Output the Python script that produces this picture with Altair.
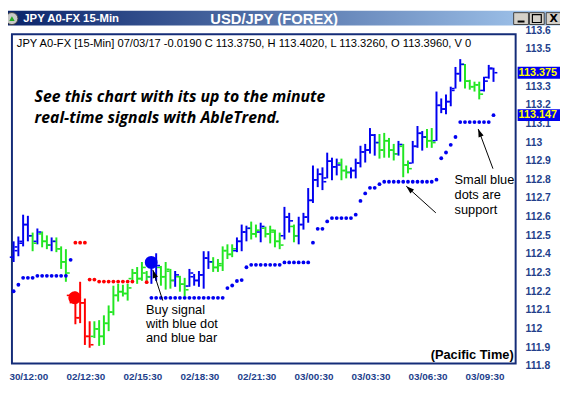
import altair as alt
import pandas as pd

# ---------------- data ----------------
# bar colour signal: B = blue (up trend), G = green (neutral), R = red (down trend)
bar_signal = list("BBBBGBGGBG" "GGRRRRRGGG" "GGGGGGGGGB" "BGGGBGGBBB" "BBGGGGGBBB"
                  "GGBGGGGBBG" "BBBBBBBBBG" "GBBBBBBGGG" "GBGGBBBGGB" "BBBBBGGGGB" "BB")

bar_high = [112.470, 112.496, 112.613, 112.607, 112.517, 112.539, 112.523, 112.502, 112.491, 112.491,
            112.443, 112.428, 112.189, 112.200, 112.253, 112.163, 112.041, 112.041, 112.047, 112.073,
            112.126, 112.232, 112.242, 112.237, 112.242, 112.322, 112.332, 112.359, 112.311, 112.385,
            112.406, 112.338, 112.359, 112.322, 112.311, 112.285, 112.274, 112.322, 112.295, 112.311,
            112.417, 112.417, 112.385, 112.375, 112.443, 112.454, 112.454, 112.491, 112.560, 112.554,
            112.576, 112.560, 112.570, 112.549, 112.554, 112.533, 112.517, 112.655, 112.623, 112.560,
            112.602, 112.623, 112.756, 112.877, 112.861, 112.867, 112.946, 112.919, 112.914, 112.914,
            112.877, 112.867, 112.914, 112.983, 112.993, 113.078, 113.046, 113.046, 113.052, 113.025,
            112.993, 113.009, 112.993, 112.904, 113.009, 113.089, 113.062, 113.073, 113.078, 113.274,
            113.237, 113.258, 113.300, 113.406, 113.448, 113.422, 113.337, 113.327, 113.327, 113.353,
            113.417, 113.402]

bar_low = [112.359, 112.390, 112.443, 112.470, 112.417, 112.454, 112.438, 112.428, 112.417, 112.412,
           112.322, 112.253, 112.137, 112.025, 112.031, 111.914, 111.899, 111.951, 111.909, 111.914,
           111.988, 112.073, 112.147, 112.174, 112.152, 112.253, 112.242, 112.258, 112.258, 112.242,
           112.258, 112.232, 112.211, 112.216, 112.226, 112.200, 112.174, 112.226, 112.232, 112.226,
           112.216, 112.322, 112.306, 112.306, 112.311, 112.375, 112.385, 112.412, 112.417, 112.470,
           112.480, 112.491, 112.465, 112.491, 112.459, 112.438, 112.428, 112.480, 112.517, 112.465,
           112.454, 112.533, 112.570, 112.676, 112.761, 112.745, 112.808, 112.798, 112.824, 112.798,
           112.808, 112.808, 112.808, 112.867, 112.893, 112.941, 112.930, 112.914, 112.919, 112.919,
           112.904, 112.930, 112.814, 112.835, 112.888, 112.972, 112.957, 112.972, 112.972, 113.009,
           113.158, 113.152, 113.195, 113.290, 113.327, 113.290, 113.284, 113.274, 113.232, 113.274,
           113.343, 113.326]

bar_open = [112.385, 112.420, 112.460, 112.560, 112.500, 112.470, 112.510, 112.470, 112.450, 112.470,
            112.430, 112.360, 112.180, 112.180, 112.060, 112.140, 111.960, 111.960, 112.000, 111.960,
            112.030, 112.090, 112.180, 112.200, 112.190, 112.270, 112.300, 112.270, 112.300, 112.280,
            112.360, 112.330, 112.280, 112.310, 112.260, 112.280, 112.240, 112.230, 112.280, 112.260,
            112.290, 112.380, 112.360, 112.330, 112.340, 112.420, 112.400, 112.420, 112.470, 112.520,
            112.540, 112.510, 112.520, 112.540, 112.510, 112.520, 112.470, 112.500, 112.600, 112.550,
            112.500, 112.560, 112.600, 112.690, 112.800, 112.830, 112.810, 112.900, 112.870, 112.890,
            112.850, 112.840, 112.850, 112.890, 112.950, 112.960, 113.040, 113.000, 112.960, 113.010,
            112.960, 112.940, 112.980, 112.880, 112.890, 112.980, 113.050, 113.030, 113.010, 113.010,
            113.200, 113.180, 113.220, 113.290, 113.370, 113.420, 113.330, 113.300, 113.310, 113.280,
            113.350, 113.396]

bar_close = [112.440, 112.470, 112.560, 112.500, 112.460, 112.520, 112.470, 112.450, 112.470, 112.430,
             112.360, 112.300, 112.150, 112.060, 112.140, 111.960, 111.915, 112.000, 111.960, 112.030,
             112.090, 112.180, 112.200, 112.190, 112.220, 112.300, 112.270, 112.330, 112.280, 112.360,
             112.340, 112.280, 112.320, 112.260, 112.290, 112.240, 112.210, 112.300, 112.260, 112.290,
             112.380, 112.360, 112.330, 112.350, 112.420, 112.400, 112.430, 112.470, 112.520, 112.540,
             112.510, 112.530, 112.550, 112.510, 112.530, 112.470, 112.450, 112.600, 112.580, 112.500,
             112.560, 112.600, 112.690, 112.800, 112.830, 112.790, 112.900, 112.870, 112.880, 112.850,
             112.840, 112.850, 112.890, 112.950, 112.960, 113.040, 113.000, 112.960, 113.010, 112.960,
             112.940, 112.990, 112.880, 112.860, 112.980, 113.050, 113.030, 113.010, 113.000, 113.200,
             113.180, 113.220, 113.280, 113.370, 113.420, 113.330, 113.300, 113.310, 113.260, 113.330,
             113.400, 113.375]

# small blue support dots
support_bar = [0, 1, 2, 3, 4, 5, 6, 7, 8, 9, 10, 11, 12,
               29, 30, 31, 32, 33, 34, 35, 36, 37, 38, 39, 40, 41, 42, 43, 44,
               45, 46, 47, 48, 49,
               50, 51, 52, 53, 54, 55, 56,
               57, 58, 59, 60, 61, 62,
               63, 64, 65, 66,
               67, 68, 69, 70, 71,
               72, 73, 74, 75, 76, 77,
               78, 79, 80, 81, 82, 83, 84, 85, 86, 87, 88,
               89, 90, 91, 92, 93,
               94, 95, 96, 97, 98, 99, 100, 101]
support_price = [112.202, 112.237, 112.274, 112.274, 112.274, 112.285, 112.285, 112.285, 112.285, 112.285,
                 112.285, 112.285, 112.371,
                 112.167, 112.167, 112.167, 112.167, 112.167, 112.167, 112.167, 112.167, 112.167, 112.167,
                 112.167, 112.167, 112.167, 112.167, 112.167, 112.167,
                 112.219, 112.233, 112.257, 112.262, 112.331,
                 112.344, 112.344, 112.344, 112.344, 112.344, 112.344, 112.344,
                 112.357, 112.357, 112.357, 112.357, 112.357, 112.357,
                 112.463, 112.537, 112.537, 112.577,
                 112.595, 112.595, 112.595, 112.595, 112.595,
                 112.613, 112.687, 112.727, 112.757, 112.757, 112.777,
                 112.790, 112.790, 112.790, 112.790, 112.790, 112.790, 112.790, 112.790, 112.790, 112.790, 112.790,
                 112.801, 112.916, 112.947, 112.988, 113.030,
                 113.110, 113.110, 113.110, 113.110, 113.110, 113.110, 113.110, 113.147]

# small red resistance dots
resist_bar = [13, 14, 15, 16, 17, 18, 19, 20, 21, 22, 23, 24, 25, 28]
resist_price = [112.463, 112.463, 112.463, 112.265, 112.265, 112.254, 112.254, 112.254, 112.254,
                112.254, 112.254, 112.254, 112.254, 112.251]

# big sell / buy signal dots
signal_bar = [12.86, 28.96]
signal_price = [112.167, 112.357]
signal_kind = ["R", "B"]

x_label_bar = [3, 15, 27, 39, 51, 63, 75, 87, 99]
x_label_text = ["30/12:00", "02/12:30", "02/15:30", "02/18:30", "02/21:30",
                "03/00:30", "03/03:30", "03/06:30", "03/09:30"]
# 113.4 is hidden under the last-price box in the reference
y_label_price = [113.6, 113.5, 113.3, 113.2, 113.1, 113.0, 112.9, 112.8, 112.7,
                 112.6, 112.5, 112.4, 112.3, 112.2, 112.1, 112.0, 111.9, 111.8]
y_label_text = ["113.6", "113.5", "113.3", "113.2", "113.1", "113", "112.9", "112.8", "112.7",
                "112.6", "112.5", "112.4", "112.3", "112.2", "112.1", "112", "111.9", "111.8"]
last_price = [113.375, 113.147]
last_text = ["113.375", "113.147"]

header_text = "JPY A0-FX [15-Min] 07/03/17  -0.0190 C 113.3750, H 113.4020, L 113.3260, O 113.3960, V 0"
promo_lines = ["See this chart with its up to the minute", "real-time signals with AbleTrend."]
promo_bar = [4.42, 4.42]
promo_price = [113.245, 113.134]
buy_lines = ["Buy signal", "with blue dot", "and blue bar"]
buy_bar = [27.86, 27.86, 27.86]
buy_price = [112.099, 112.025, 111.951]
note_lines = ["Small blue", "dots are", "support"]
note_bar = [92.8, 92.8, 92.8]
note_price = [112.798, 112.719, 112.639]
arrow_tail_bar = [31.39, 100.89, 88.86]
arrow_tail_price = [112.152, 112.860, 112.623]
arrow_head_bar = [29.31, 97.78, 82.64]
arrow_head_price = [112.316, 113.073, 112.766]
arrow_angle = [342, 339, 312]

# ---------------- styling ----------------
W, H = 511, 334
BLUE, GREEN, RED = "#0000f0", "#22e622", "#ff0000"
GRID = "#aef0f0"
FRAME = "#142c78"
NAVY = "#233f8c"
FONT = "Liberation Sans"

xs = alt.Scale(domain=[-0.353, 105.66], nice=False, zero=False)
ys = alt.Scale(domain=[111.814, 113.581], nice=False, zero=False)
cscale = alt.Scale(domain=["B", "G", "R"], range=[BLUE, GREEN, RED])

bars_df = pd.DataFrame({"bar": list(range(len(bar_high))), "high": bar_high, "low": bar_low,
                        "open": bar_open, "close": bar_close, "signal": bar_signal})
grid_x = list(range(0, 106, 3))
grid_y = [round(111.9 + 0.1 * k, 1) for k in range(17)]

x_axis = alt.Axis(values=grid_x, grid=True, gridColor=GRID, gridWidth=1, gridOpacity=1,
                  labels=False, ticks=True, tickColor=FRAME, tickSize=5, tickWidth=1,
                  domain=False, title=None)
y_axis = alt.Axis(orient="right", values=grid_y, grid=True, gridColor=GRID, gridWidth=1,
                  gridOpacity=1, labels=False, ticks=False, domain=False, title=None)

X = lambda f: alt.X(f, scale=xs, axis=None)
Y = lambda f: alt.Y(f, scale=ys, axis=None)

bars = alt.Chart(bars_df).mark_rule(strokeWidth=2).encode(
    x=alt.X("bar:Q", scale=xs, axis=x_axis),
    y=alt.Y("high:Q", scale=ys, axis=y_axis),
    y2="low:Q",
    color=alt.Color("signal:N", scale=cscale, legend=None))
open_t = alt.Chart(bars_df).mark_tick(orient="horizontal", size=3, thickness=1.6, xOffset=-2.4, opacity=1).encode(
    x=X("bar:Q"), y=Y("open:Q"), color=alt.Color("signal:N", scale=cscale, legend=None))
close_t = alt.Chart(bars_df).mark_tick(orient="horizontal", size=3, thickness=1.6, xOffset=2.4, opacity=1).encode(
    x=X("bar:Q"), y=Y("close:Q"), color=alt.Color("signal:N", scale=cscale, legend=None))

sup = alt.Chart(pd.DataFrame({"bar": support_bar, "price": support_price})).mark_circle(
    size=15, opacity=1, color=BLUE).encode(x=X("bar:Q"), y=Y("price:Q"))
res = alt.Chart(pd.DataFrame({"bar": resist_bar, "price": resist_price})).mark_circle(
    size=15, opacity=1, color=RED).encode(x=X("bar:Q"), y=Y("price:Q"))
sig = alt.Chart(pd.DataFrame({"bar": signal_bar, "price": signal_price, "kind": signal_kind})).mark_circle(
    size=170, opacity=1).encode(x=X("bar:Q"), y=Y("price:Q"),
                                color=alt.Color("kind:N", scale=cscale, legend=None))

arrows_df = pd.DataFrame({"tb": arrow_tail_bar, "tp": arrow_tail_price, "hb": arrow_head_bar,
                          "hp": arrow_head_price, "ang": arrow_angle})
arrow_lines = alt.Chart(arrows_df).mark_rule(color="black", strokeWidth=1).encode(
    x=X("tb:Q"), y=Y("tp:Q"), x2="hb:Q", y2="hp:Q")
arrow_heads = alt.Chart(arrows_df).mark_point(
    shape="M0,0L-0.42,1.25L0.42,1.25Z", filled=True, size=170, color="black", opacity=1).encode(
    x=X("hb:Q"), y=Y("hp:Q"), angle=alt.Angle("ang:Q", scale=None))

promo = alt.Chart(pd.DataFrame({"bar": promo_bar, "price": promo_price, "t": promo_lines})).mark_text(
    font="Open Sans", fontStyle="italic", fontWeight="bold", fontSize=16, align="left",
    baseline="middle", color="black").encode(x=X("bar:Q"), y=Y("price:Q"), text="t:N")
buy = alt.Chart(pd.DataFrame({"bar": buy_bar, "price": buy_price, "t": buy_lines})).mark_text(
    font=FONT, fontSize=13, align="left", baseline="middle", color="black").encode(
    x=X("bar:Q"), y=Y("price:Q"), text="t:N")
note = alt.Chart(pd.DataFrame({"bar": note_bar, "price": note_price, "t": note_lines})).mark_text(
    font=FONT, fontSize=13, align="left", baseline="middle", color="black").encode(
    x=X("bar:Q"), y=Y("price:Q"), text="t:N")
pacific = alt.Chart(pd.DataFrame({"bar": [105.25], "price": [111.861]})).mark_text(
    font=FONT, fontSize=13, fontWeight="bold", align="right", baseline="middle", color="black",
    text="(Pacific Time)").encode(x=X("bar:Q"), y=Y("price:Q"))

xlab = alt.Chart(pd.DataFrame({"bar": x_label_bar, "t": x_label_text})).mark_text(
    font=FONT, fontSize=10, fontWeight="bold", color=NAVY, baseline="middle", align="center", dx=1).encode(
    x=X("bar:Q"), y=alt.value(H + 14), text="t:N")
ylab = alt.Chart(pd.DataFrame({"price": y_label_price, "t": y_label_text})).mark_text(
    font=FONT, fontSize=10.5, fontWeight="bold", color=NAVY, baseline="middle", align="left").encode(
    x=alt.value(W + 10), y=Y("price:Q"), text="t:N")
last_df = pd.DataFrame({"price": last_price, "t": last_text})
lastbox = alt.Chart(last_df).mark_rect(color="#0000ee", yOffset=-6, y2Offset=6).encode(
    x=alt.value(W + 2), x2=alt.value(W + 50), y=Y("price:Q"), y2="price:Q")
lasttxt = alt.Chart(last_df).mark_text(
    font=FONT, fontSize=11, fontWeight="bold", color="#ffff00", baseline="middle", align="left").encode(
    x=alt.value(W + 3), y=Y("price:Q"), text="t:N")

one = pd.DataFrame({"k": [0]})
header = alt.Chart(one).mark_text(font=FONT, fontSize=11.3, align="left", baseline="middle",
                                  color="black", text=header_text).encode(x=alt.value(5), y=alt.value(10))

grad = alt.LinearGradient(gradient="linear", x1=0, x2=1, y1=0, y2=0,
                          stops=[alt.GradientStop(offset=0, color="#0a246a"),
                                 alt.GradientStop(offset=1, color="#a6caf0")])
titlebar = alt.Chart(one).mark_rect(color=grad).encode(
    x=alt.value(-4), x2=alt.value(556), y=alt.value(-24), y2=alt.value(-9))
title_main = alt.Chart(one).mark_text(font=FONT, fontSize=15, fontWeight="bold", color="white",
                                      align="center", baseline="middle", text="USD/JPY (FOREX)").encode(
    x=alt.value(266), y=alt.value(-16))
title_left = alt.Chart(one).mark_text(font=FONT, fontSize=11.5, fontWeight="bold", color="white",
                                      align="left", baseline="middle", text="JPY A0-FX 15-Min").encode(
    x=alt.value(11.5), y=alt.value(-16))
icon = alt.Chart(one).mark_circle(size=150, color="#c8c8c8", opacity=1, stroke="#404040", strokeWidth=1).encode(
    x=alt.value(0), y=alt.value(-16))
icon_tri = alt.Chart(one).mark_point(shape="triangle-up", filled=True, size=30, color="#22aa22", opacity=1).encode(
    x=alt.value(0), y=alt.value(-16))

buttons = []
for bx in (509, 525, 542):
    buttons.append(alt.Chart(one).mark_rect(color="#d4d0c8", stroke="#404040", strokeWidth=1).encode(
        x=alt.value(bx), x2=alt.value(bx + 15), y=alt.value(-22), y2=alt.value(-10)))
btn_min = alt.Chart(one).mark_rule(color="black", strokeWidth=2).encode(
    x=alt.value(513), x2=alt.value(520), y=alt.value(-13))
btn_max = alt.Chart(one).mark_rect(fill="#d4d0c8", stroke="black", strokeWidth=1.2).encode(
    x=alt.value(528), x2=alt.value(537), y=alt.value(-20), y2=alt.value(-12))
btn_x = alt.Chart(one).mark_text(font="DejaVu Sans", fontSize=11, fontWeight="bold", color="black",
                                 align="center", baseline="middle", text="X").encode(
    x=alt.value(549.5), y=alt.value(-15.5))

chart = alt.layer(
    bars, open_t, close_t, sup, res, sig, arrow_lines, arrow_heads,
    promo, buy, note, pacific, xlab, ylab, lastbox, lasttxt, header,
    titlebar, title_main, title_left, icon, icon_tri, *buttons, btn_min, btn_max, btn_x
).properties(
    width=W, height=H,
    padding={"left": 4, "top": 24, "right": 45, "bottom": 18},
    autosize=alt.AutoSizeParams(type="none"),
    background="white",
).configure_view(stroke=FRAME, strokeWidth=2)

chart.save("out.html", embed_options={"renderer": "svg", "actions": False})
